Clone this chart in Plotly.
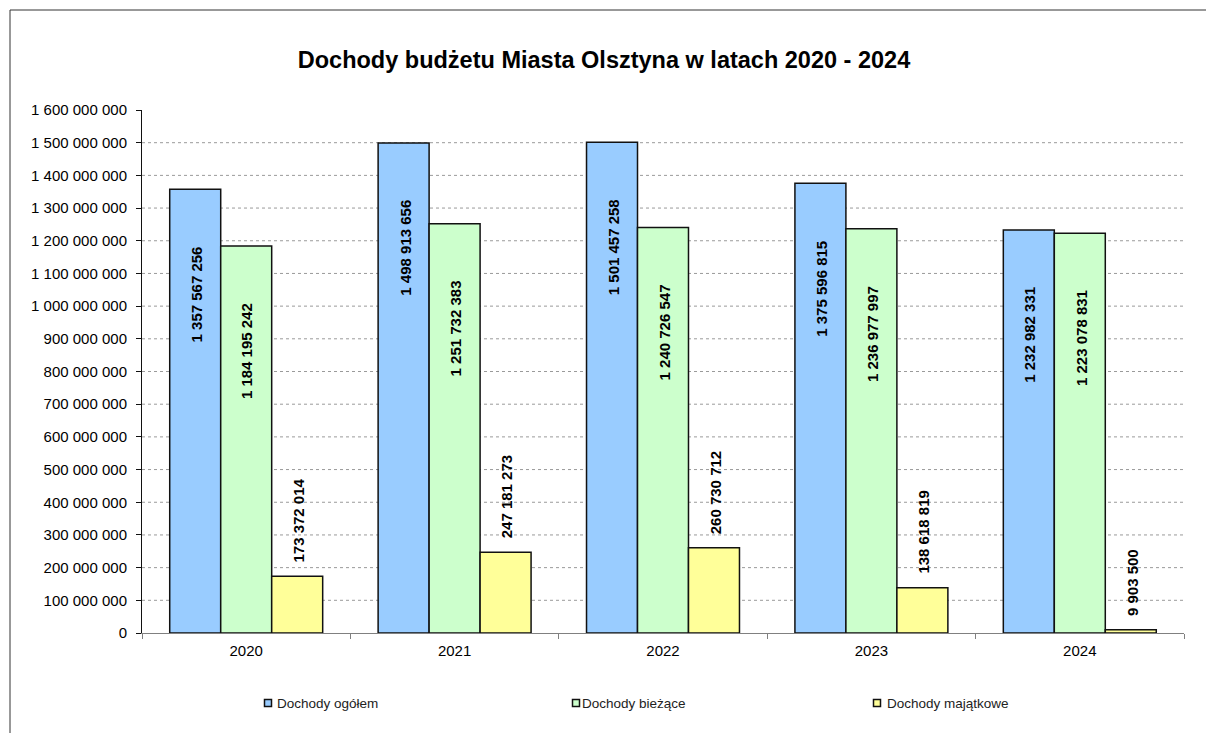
import plotly.graph_objects as go

# ---- data ----
years = ["2020", "2021", "2022", "2023", "2024"]
dochody_ogolem = [1357567256, 1498913656, 1501457258, 1375596815, 1232982331]
dochody_biezace = [1184195242, 1251732383, 1240726547, 1236977997, 1223078831]
dochody_majatkowe = [173372014, 247181273, 260730712, 138618819, 9903500]
series_names = ["Dochody ogółem", "Dochody bieżące", "Dochody majątkowe"]
y_tick_vals = [0, 100000000, 200000000, 300000000, 400000000, 500000000, 600000000,
               700000000, 800000000, 900000000, 1000000000, 1100000000, 1200000000,
               1300000000, 1400000000, 1500000000, 1600000000]
y_tick_text = ["0", "100 000 000", "200 000 000", "300 000 000", "400 000 000",
               "500 000 000", "600 000 000", "700 000 000", "800 000 000",
               "900 000 000", "1 000 000 000", "1 100 000 000", "1 200 000 000",
               "1 300 000 000", "1 400 000 000", "1 500 000 000", "1 600 000 000"]
title_text = "Dochody budżetu Miasta Olsztyna w latach 2020 - 2024"

# ---- layout geometry (pixels) ----
W, H = 1206, 733
L, R, T, B = 142, 22, 110, 100
PW, PH = W - L - R, H - T - B
FONT = "Liberation Sans, Arial, sans-serif"
colors = ["#99CCFF", "#CCFFCC", "#FFFF99"]


def px_x(px):
    return (px - L) / PW


def px_y(py):
    return (H - B - py) / PH


def fmt(v):
    return f"{v:,}".replace(",", " ")


fig = go.Figure()
all_series = [dochody_ogolem, dochody_biezace, dochody_majatkowe]
for name, vals, col in zip(series_names, all_series, colors):
    fig.add_trace(go.Bar(
        x=years, y=vals, name=name,
        marker=dict(color=col, line=dict(color="#111111", width=1.5)),
        showlegend=False, hoverinfo="x+y",
    ))

bar_px = PW / len(years) * (1 - 0.266) / 3
offsets = [-bar_px, 0, bar_px]

annotations = []
for si, vals in enumerate(all_series):
    for ci, v in enumerate(vals):
        inside = si < 2
        annotations.append(dict(
            x=ci, y=v, xref="x", yref="y", text="<b>" + fmt(v) + "</b>", textangle=-90,
            showarrow=False, xshift=offsets[si] + 1,
            yshift=-55 if inside else 12, yanchor="top" if inside else "bottom",
            xanchor="center",
            font=dict(family=FONT, size=15, color="#000000")))

# manual legend
legend_sq_x = [268, 576, 877]
legend_txt_x = [275, 580, 885]
legend_y = 703
shapes = []
for sx, tx, name, col in zip(legend_sq_x, legend_txt_x, series_names, colors):
    shapes.append(dict(type="rect", xref="paper", yref="paper",
                       x0=px_x(sx - 3.5), x1=px_x(sx + 3.5),
                       y0=px_y(legend_y + 3.5), y1=px_y(legend_y - 3.5),
                       fillcolor=col, line=dict(color="#111111", width=1.5)))
    annotations.append(dict(x=px_x(tx), y=px_y(legend_y), xref="paper", yref="paper",
                            text=name, showarrow=False, xanchor="left", yanchor="middle",
                            font=dict(family=FONT, size=13.5, color="#222222")))

# dotted gridlines (excluding axis and top)
for gv in y_tick_vals[1:-1]:
    shapes.append(dict(type="line", xref="paper", yref="y", x0=0, x1=1, y0=gv, y1=gv,
                       line=dict(color="#9a9a9a", width=1, dash="dot"), layer="below"))

# outer chart border
shapes.append(dict(type="rect", xref="paper", yref="paper",
                   x0=px_x(10), x1=px_x(W + 20), y0=px_y(H + 20), y1=px_y(10),
                   line=dict(color="#333333", width=1), fillcolor="rgba(0,0,0,0)"))

fig.update_layout(
    width=W, height=H,
    margin=dict(l=L, r=R, t=T, b=B, autoexpand=False),
    paper_bgcolor="white", plot_bgcolor="white",
    barmode="group", bargap=0.266, bargroupgap=0,
    title=dict(text=title_text, x=604 / W, xanchor="center", y=1 - 60 / H,
               yanchor="middle", font=dict(family=FONT, size=23.5, color="#000000", weight="bold")),
    font=dict(family=FONT, size=15, color="#000000"),
    shapes=shapes, annotations=annotations,
    xaxis=dict(type="category", range=[-0.5, len(years) - 0.5], showline=True,
               linecolor="#808080", linewidth=1,
               ticks="outside", tickson="boundaries", ticklen=5, tickcolor="#808080",
               ticklabelstandoff=4,
               showgrid=False, tickfont=dict(family=FONT, size=15, color="#000000")),
    yaxis=dict(range=[0, 1600000000], tickvals=y_tick_vals, ticktext=y_tick_text,
               showline=True, linecolor="#111111", linewidth=1, ticks="outside",
               ticklen=5, tickcolor="#111111", showgrid=False, zeroline=False,
               ticklabelstandoff=6,
               tickfont=dict(family=FONT, size=15, color="#000000")),
)

fig.write_html("out.html")
